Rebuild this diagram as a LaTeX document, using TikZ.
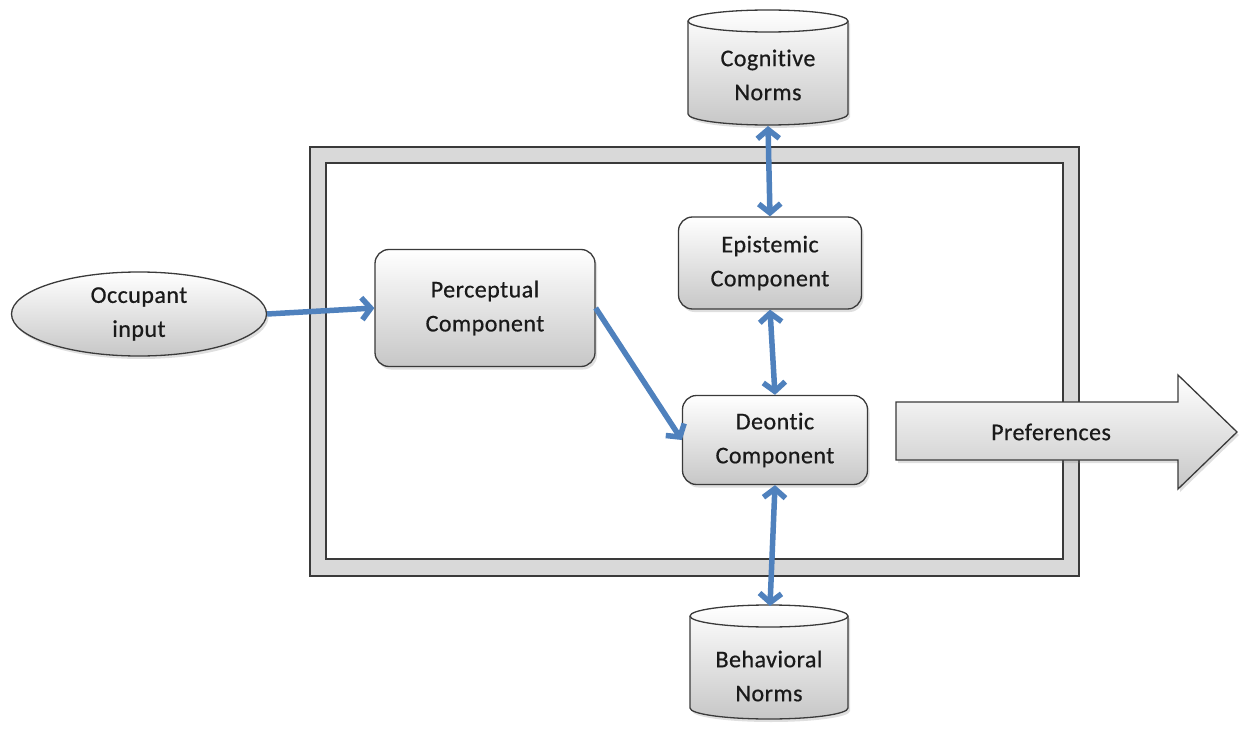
\documentclass[tikz,border=0pt]{standalone}
\usepackage{fontspec}
\setmainfont{Carlito}[Ligatures=NoCommon, LetterSpace=2, FakeBold=0.6]
\usetikzlibrary{shapes.geometric,arrows.meta,shadows}
\definecolor{lineblue}{HTML}{4F81BD}
\definecolor{edge}{HTML}{3A3A3A}
\definecolor{txt}{HTML}{1A1A1A}
\tikzset{
  lbl/.style={font=\fontsize{24}{34}\selectfont, text=txt, align=center},
  boxshade/.style={top color=white, bottom color=black!22, draw=edge, line width=1.3pt},
  shad/.style={drop shadow={opacity=0.25, shadow xshift=2pt, shadow yshift=-3pt}},
  comp/.style={boxshade, shad, rounded corners=14pt, lbl, inner sep=0pt},
  link/.style={draw=lineblue, line width=5.5pt, -{Straight Barb[length=9pt,width=22pt]}},
  link2/.style={draw=lineblue, line width=5.5pt, {Straight Barb[length=9pt,width=22pt]}-{Straight Barb[length=9pt,width=22pt]}},
}
\begin{document}
\begin{tikzpicture}[x=1pt,y=1pt]
\useasboundingbox (0,0) rectangle (1243,-733);
% frame
\filldraw[fill=black!15, draw=edge, line width=1.6pt] (310,-147) rectangle (1079,-576);
\filldraw[fill=white, draw=edge, line width=1.6pt] (326,-163) rectangle (1063,-559);
% cylinders
\path[boxshade, shad] (688,-21) -- (688,-114) arc (180:360:80 and 11) -- (848,-21) arc (0:180:80 and 11) -- cycle;
\draw[draw=edge, line width=1.3pt] (688,-21) arc (180:360:80 and 11);
\node[lbl] (cog) at (768,-75) {Cognitive\\Norms};
\coordinate (cogb) at (768,-126);
\path[boxshade, shad] (690,-616) -- (690,-708) arc (180:360:79 and 11) -- (848,-616) arc (0:180:79 and 11) -- cycle;
\draw[draw=edge, line width=1.3pt] (690,-616) arc (180:360:79 and 11);
\node[lbl] (beh) at (769,-676) {Behavioral\\Norms};
\coordinate (beht) at (770,-606);
% preferences arrow
\path[boxshade, shad, line join=miter] (896,-402) -- (1178,-402) -- (1178,-375) -- (1237,-432) -- (1178,-489) -- (1178,-460) -- (896,-460) -- cycle;
\node[lbl] (pref) at (1051,-432) {Preferences};
% occupant
\node[ellipse, boxshade, shad, lbl, minimum width=255pt, minimum height=84pt, inner sep=0pt] (occ) at (139,-314) {Occupant\\input};
% components
\node[comp, minimum width=220pt, minimum height=117pt] (perc) at (485,-308) {Perceptual\\Component};
\node[comp, minimum width=183pt, minimum height=92pt] (epi) at (770,-263) {Epistemic\\Component};
\node[comp, minimum width=185pt, minimum height=89pt] (deon) at (775,-440) {Deontic\\Component};
% connectors
\draw[link] (occ.east) -- (perc.west);
\draw[link] (perc.east) -- (deon.west);
\draw[link2] (cogb) -- (epi.north);
\draw[link2] (epi.south) -- (deon.north);
\draw[link2] (deon.south) -- (beht);
\end{tikzpicture}
\end{document}
